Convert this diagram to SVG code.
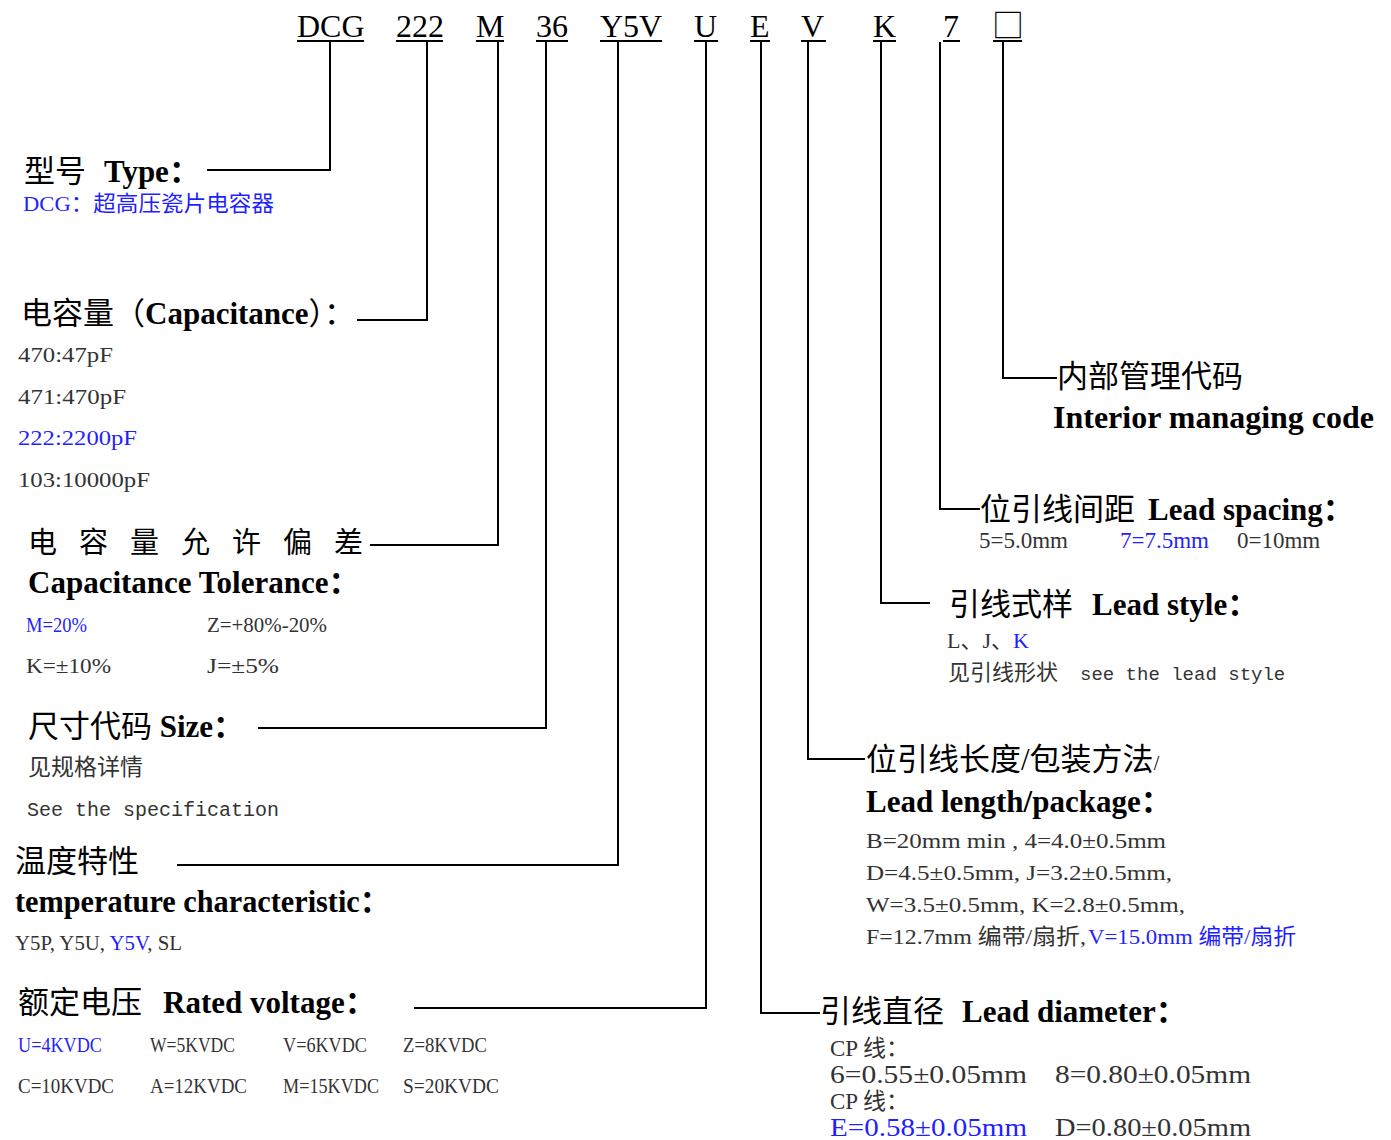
<svg xmlns="http://www.w3.org/2000/svg" width="1391" height="1140" viewBox="0 0 1391 1140">
<style>
.h{font-family:"Liberation Serif","Noto Sans CJK SC",serif;font-size:31px;fill:#000}
.b{font-weight:bold}
.s{font-family:"Liberation Serif","Noto Sans CJK SC",serif;font-size:22px;fill:#333}
.m{font-family:"Liberation Mono","Noto Sans CJK SC",monospace;font-size:20px;fill:#333}
.bl{fill:#1f1fff}
.code{font-family:"Liberation Serif","Noto Sans CJK SC",serif;font-size:32px;fill:#000}
.c{fill:none;stroke:#000;stroke-width:2}
.u{stroke:#000;stroke-width:2}
</style>
<rect width="1391" height="1140" fill="#fff"/>
<g id="code-row">
<text class="code" x="297" y="37">DCG</text><line class="u" x1="297" y1="41" x2="364" y2="41"/>
<text class="code" x="396" y="37">222</text><line class="u" x1="396" y1="41" x2="443" y2="41"/>
<text class="code" x="476" y="37">M</text><line class="u" x1="476" y1="41" x2="504" y2="41"/>
<text class="code" x="536" y="37">36</text><line class="u" x1="536" y1="41" x2="568" y2="41"/>
<text class="code" x="600" y="37">Y5V</text><line class="u" x1="600" y1="41" x2="662" y2="41"/>
<text class="code" x="694" y="37">U</text><line class="u" x1="694" y1="41" x2="718" y2="41"/>
<text class="code" x="750" y="37">E</text><line class="u" x1="750" y1="41" x2="770" y2="41"/>
<text class="code" x="801" y="37">V</text><line class="u" x1="801" y1="41" x2="826" y2="41"/>
<text class="code" x="873" y="37">K</text><line class="u" x1="873" y1="41" x2="896" y2="41"/>
<text class="code" x="943" y="37">7</text><line class="u" x1="943" y1="41" x2="960" y2="41"/>
<text class="code" x="992" y="37" style="font-family:'Noto Sans CJK SC',sans-serif;font-size:32px">□</text><line class="u" x1="993" y1="41" x2="1022" y2="41"/>
</g>
<g id="connectors">
<polyline class="c" points="330,42 330,170 207,170"/>
<polyline class="c" points="427,42 427,320 357,320"/>
<polyline class="c" points="498,42 498,545 370,545"/>
<polyline class="c" points="546,42 546,728 258,728"/>
<polyline class="c" points="618,42 618,865 177,865"/>
<polyline class="c" points="706,42 706,1008 414,1008"/>
<polyline class="c" points="761,42 761,1013 820,1013"/>
<polyline class="c" points="808,42 808,759 865,759"/>
<polyline class="c" points="881,42 881,603 930,603"/>
<polyline class="c" points="940,42 940,509 980,509"/>
<polyline class="c" points="1003,42 1003,378 1057,378"/>
</g>
<g id="type">
<text class="h" x="24" y="182">型号<tspan class="b" x="104">Type：</tspan></text>
<text class="s bl" x="23" y="211" textLength="251" lengthAdjust="spacingAndGlyphs">DCG：超高压瓷片电容器</text>
</g>
<g id="capacitance">
<text class="h" x="21" y="324">电容量（<tspan class="b">Capacitance</tspan>）：</text>
<text class="s" x="18" y="362" textLength="95" lengthAdjust="spacingAndGlyphs">470:47pF</text>
<text class="s" x="18" y="404" textLength="108" lengthAdjust="spacingAndGlyphs">471:470pF</text>
<text class="s bl" x="18" y="445" textLength="119" lengthAdjust="spacingAndGlyphs">222:2200pF</text>
<text class="s" x="18" y="487" textLength="132" lengthAdjust="spacingAndGlyphs">103:10000pF</text>
</g>
<g id="tolerance">
<text class="h" x="28 79 130 181 232 283 334" y="553" style="font-size:29px">电容量允许偏差</text>
<text class="h b" x="28" y="593">Capacitance Tolerance：</text>
<text class="s bl" x="26" y="632" textLength="61" lengthAdjust="spacingAndGlyphs">M=20%</text>
<text class="s" x="207" y="632" textLength="120" lengthAdjust="spacingAndGlyphs">Z=+80%-20%</text>
<text class="s" x="26" y="673" textLength="85" lengthAdjust="spacingAndGlyphs">K=±10%</text>
<text class="s" x="207" y="673" textLength="72" lengthAdjust="spacingAndGlyphs">J=±5%</text>
</g>
<g id="size">
<text class="h" x="28" y="737">尺寸代码 <tspan class="b">Size：</tspan></text>
<text class="s" x="28" y="775" style="font-size:23px">见规格详情</text>
<text class="m" x="27" y="816">See the specification</text>
</g>
<g id="temperature">
<text class="h" x="15" y="872">温度特性</text>
<text class="h b" x="15" y="912" textLength="375" lengthAdjust="spacingAndGlyphs">temperature characteristic：</text>
<text class="s" x="15" y="950" textLength="167" lengthAdjust="spacingAndGlyphs">Y5P, Y5U, <tspan class="bl">Y5V</tspan>, SL</text>
</g>
<g id="voltage">
<text class="h" x="18" y="1013">额定电压<tspan class="b" x="163">Rated voltage：</tspan></text>
<text class="s bl" x="18" y="1052" textLength="84" lengthAdjust="spacingAndGlyphs">U=4KVDC</text>
<text class="s" x="150" y="1052" textLength="85" lengthAdjust="spacingAndGlyphs">W=5KVDC</text>
<text class="s" x="283" y="1052" textLength="84" lengthAdjust="spacingAndGlyphs">V=6KVDC</text>
<text class="s" x="403" y="1052" textLength="84" lengthAdjust="spacingAndGlyphs">Z=8KVDC</text>
<text class="s" x="18" y="1093" textLength="96" lengthAdjust="spacingAndGlyphs">C=10KVDC</text>
<text class="s" x="150" y="1093" textLength="97" lengthAdjust="spacingAndGlyphs">A=12KVDC</text>
<text class="s" x="283" y="1093" textLength="96" lengthAdjust="spacingAndGlyphs">M=15KVDC</text>
<text class="s" x="403" y="1093" textLength="96" lengthAdjust="spacingAndGlyphs">S=20KVDC</text>
</g>
<g id="interior-code">
<text class="h" x="1057" y="387">内部管理代码</text>
<text class="h b" x="1053" y="428" textLength="321" lengthAdjust="spacingAndGlyphs">Interior managing code</text>
</g>
<g id="lead-spacing">
<text class="h" x="980" y="520">位引线间距<tspan class="b" x="1148">Lead spacing：</tspan></text>
<text class="s" x="979" y="548" style="font-size:23px">5=5.0mm</text>
<text class="s bl" x="1120" y="548" style="font-size:23px">7=7.5mm</text>
<text class="s" x="1237" y="548" style="font-size:23px">0=10mm</text>
</g>
<g id="lead-style">
<text class="h" x="949" y="615">引线式样<tspan class="b" x="1092">Lead style：</tspan></text>
<text class="s" x="947" y="648">L、J、<tspan class="bl">K</tspan></text>
<text class="s" x="948" y="680">见引线形状<tspan class="m" x="1080" style="font-size:19px">see the lead style</tspan></text>
</g>
<g id="lead-length">
<text class="h" x="866" y="770">位引线长度/包装方法<tspan style="font-size:20px">/</tspan></text>
<text class="h b" x="866" y="812">Lead length/package：</text>
<text class="s" x="866" y="848" textLength="300" lengthAdjust="spacingAndGlyphs">B=20mm min ,  4=4.0±0.5mm</text>
<text class="s" x="866" y="880" textLength="306" lengthAdjust="spacingAndGlyphs">D=4.5±0.5mm, J=3.2±0.5mm,</text>
<text class="s" x="866" y="912" textLength="319" lengthAdjust="spacingAndGlyphs">W=3.5±0.5mm,  K=2.8±0.5mm,</text>
<text class="s" x="866" y="944" textLength="220" lengthAdjust="spacingAndGlyphs">F=12.7mm 编带/扇折,</text>
<text class="s bl" x="1088" y="944" textLength="208" lengthAdjust="spacingAndGlyphs">V=15.0mm 编带/扇折</text>
</g>
<g id="lead-diameter">
<text class="h" x="820" y="1022">引线直径<tspan class="b" x="962">Lead diameter：</tspan></text>
<text class="s" x="830" y="1056" style="font-size:23px">CP 线：</text>
<text class="s" x="830" y="1083" style="font-size:25px" textLength="197" lengthAdjust="spacingAndGlyphs">6=0.55±0.05mm</text>
<text class="s" x="1055" y="1083" style="font-size:25px" textLength="196" lengthAdjust="spacingAndGlyphs">8=0.80±0.05mm</text>
<text class="s" x="830" y="1109" style="font-size:23px">CP 线：</text>
<text class="s bl" x="830" y="1136" style="font-size:25px" textLength="197" lengthAdjust="spacingAndGlyphs">E=0.58±0.05mm</text>
<text class="s" x="1055" y="1136" style="font-size:25px" textLength="196" lengthAdjust="spacingAndGlyphs">D=0.80±0.05mm</text>
</g>
</svg>
